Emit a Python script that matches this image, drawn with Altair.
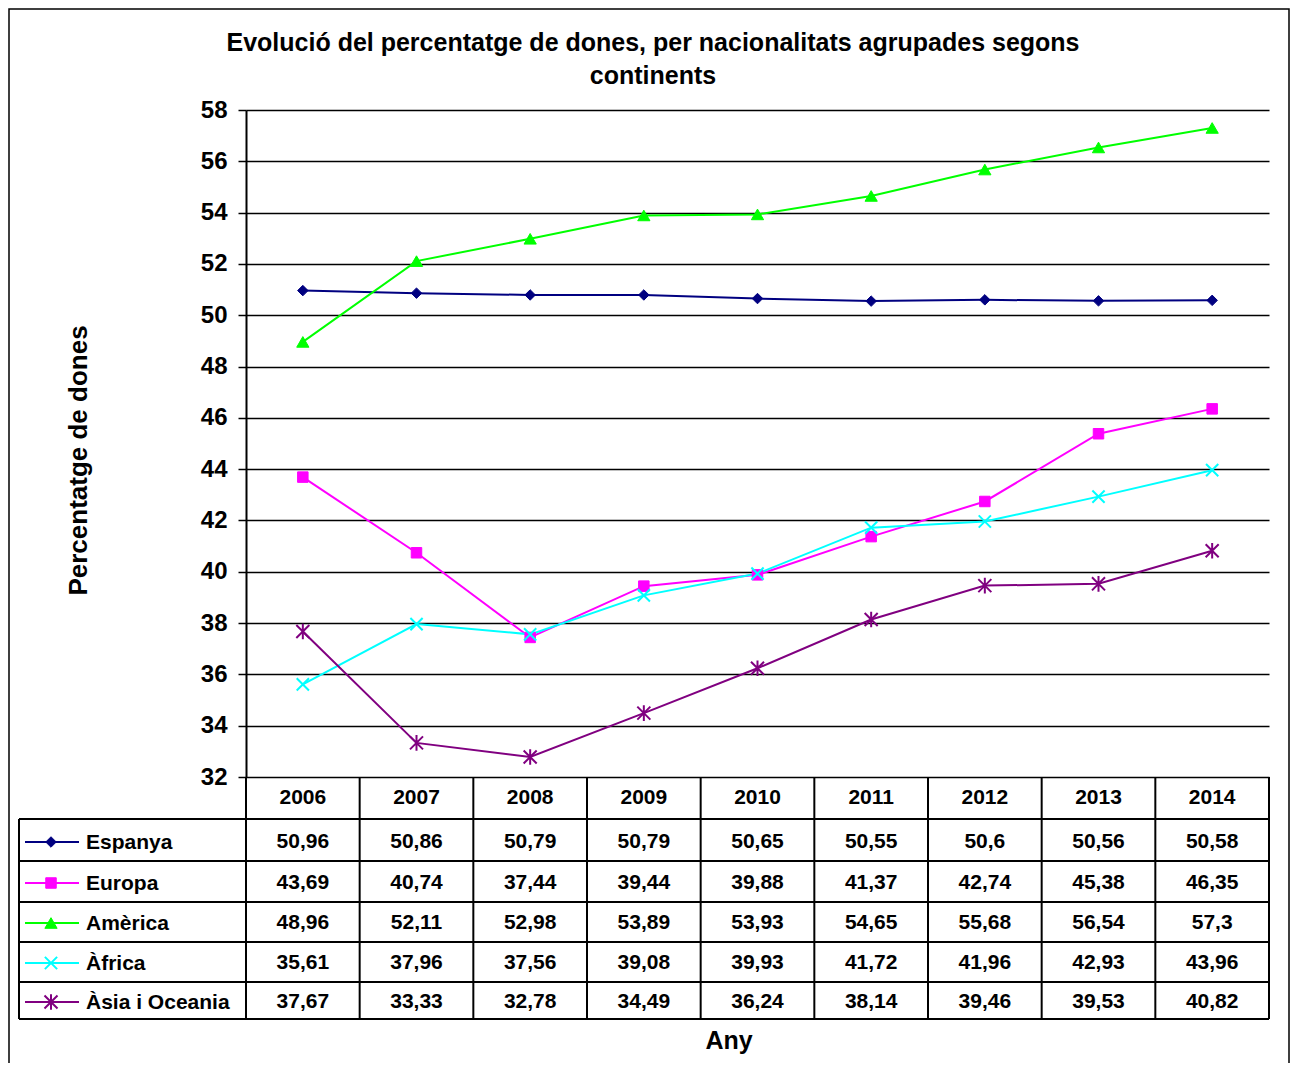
import altair as alt
import pandas as pd

# ---------------- data ----------------
years = ["2006", "2007", "2008", "2009", "2010", "2011", "2012", "2013", "2014"]
series = ["Espanya", "Europa", "Amèrica", "Àfrica", "Àsia i Oceania"]
espanya = [50.96, 50.86, 50.79, 50.79, 50.65, 50.55, 50.6, 50.56, 50.58]
europa = [43.69, 40.74, 37.44, 39.44, 39.88, 41.37, 42.74, 45.38, 46.35]
america = [48.96, 52.11, 52.98, 53.89, 53.93, 54.65, 55.68, 56.54, 57.3]
africa = [35.61, 37.96, 37.56, 39.08, 39.93, 41.72, 41.96, 42.93, 43.96]
asia = [37.67, 33.33, 32.78, 34.49, 36.24, 38.14, 39.46, 39.53, 40.82]
all_values = [espanya, europa, america, africa, asia]

title_lines = ["Evolució del percentatge de dones, per nacionalitats agrupades segons", "continents"]
y_title = "Percentatge de dones"
x_title = "Any"

# ---------------- styles ----------------
colors = ["#000080", "#FF00FF", "#00FF00", "#00FFFF", "#800080"]
X_PATH = "M-1,-1L1,1M-1,1L1,-1"
AST_PATH = "M-1,-1L1,1M-1,1L1,-1M0,-1.2L0,1.2"
shapes = ["diamond", "square", "triangle-up", X_PATH, AST_PATH]
filled = [True, True, True, False, False]
sizes = [110, 110, 150, 150, 170]

FONT = "Liberation Sans"
W, H = 1023, 667          # plot area
OX, OY = 246, 110         # page position of plot origin
PAD_L, PAD_T = OX - 8, OY - 8


def px(x):
    return x - OX


def py(y):
    return y - OY


rows = []
for s, vals in zip(series, all_values):
    for yr, v in zip(years, vals):
        rows.append({"serie": s, "any": yr, "pct": v,
                     "label": f"{v:g}".replace(".", ",")})
df = pd.DataFrame(rows)

one = alt.Data(values=[{"k": 1}])

x_enc = alt.X("any:N", sort=years, axis=None,
              scale=alt.Scale(type="point", padding=0.5, domain=years))
y_enc = alt.Y("pct:Q",
              scale=alt.Scale(domain=[32, 58], nice=False, zero=False),
              axis=alt.Axis(values=list(range(32, 59, 2)), grid=True,
                            gridColor="black", gridWidth=1.6, gridOpacity=1,
                            domainColor="black", domainWidth=2,
                            tickColor="black", tickSize=8, tickWidth=1.5,
                            labelFont=FONT, labelFontSize=24,
                            labelFontWeight="bold", labelColor="black",
                            labelPadding=11,
                            title=y_title, titleFont=FONT, titleFontSize=26,
                            titleFontWeight="bold", titleColor="black",
                            titleX=-168, titleY=350, titleAngle=-90,
                            titleBaseline="middle", titleAlign="center"))

layers = []

# lines
layers.append(
    alt.Chart(df).mark_line(strokeWidth=2).encode(
        x=x_enc, y=y_enc,
        color=alt.Color("serie:N", scale=alt.Scale(domain=series, range=colors),
                        legend=None),
        detail="serie:N",
    )
)

# markers
for s, c, sh, f, sz in zip(series, colors, shapes, filled, sizes):
    layers.append(
        alt.Chart(df).transform_filter(alt.datum.serie == s).mark_point(
            shape=sh, filled=f, size=sz, color=c, stroke=c,
            strokeWidth=1 if f else 2, opacity=1, fill=c if f else "transparent"
        ).encode(x=x_enc, y=y_enc)
    )

# ---------------- table ----------------
row_lines = [819, 861, 902, 942, 982, 1019]
row_centers = [841, 882, 922, 962, 1001]
header_center = 798


def seg(x1, y1, x2, y2, w=2):
    return alt.Chart(one).mark_rule(color="black", strokeWidth=w).encode(
        x=alt.value(px(x1)), x2=alt.value(px(x2)),
        y=alt.value(py(y1)), y2=alt.value(py(y2)))


for yl in row_lines:
    layers.append(seg(19, yl, OX + W, yl))
layers.append(seg(19, row_lines[0], 19, row_lines[-1]))
for k in range(len(years) + 1):
    xk = OX + k * W / len(years)
    layers.append(seg(xk, OY + H, xk, row_lines[-1]))

text_style = dict(font=FONT, fontSize=21, fontWeight="bold", color="black",
                  baseline="middle")

# header years
layers.append(
    alt.Chart(df).transform_filter(alt.datum.serie == series[0]).mark_text(
        align="center", **text_style
    ).encode(x=x_enc, y=alt.value(py(header_center)), text="any:N")
)

for i, (s, c, sh, f, sz) in enumerate(zip(series, colors, shapes, filled, sizes)):
    yc = row_centers[i]
    layers.append(
        alt.Chart(df).transform_filter(alt.datum.serie == s).mark_text(
            align="center", **text_style
        ).encode(x=x_enc, y=alt.value(py(yc + 1)), text="label:N")
    )
    # legend sample
    layers.append(
        alt.Chart(one).mark_rule(color=c, strokeWidth=2).encode(
            x=alt.value(px(25)), x2=alt.value(px(79)),
            y=alt.value(py(yc + 1)), y2=alt.value(py(yc + 1)))
    )
    layers.append(
        alt.Chart(one).mark_point(
            shape=sh, filled=f, size=sz, color=c, stroke=c,
            strokeWidth=1 if f else 2, opacity=1, fill=c if f else "transparent"
        ).encode(x=alt.value(px(51)), y=alt.value(py(yc + 1)))
    )
    layers.append(
        alt.Chart(alt.Data(values=[{"t": s}])).mark_text(
            align="left", **text_style
        ).encode(x=alt.value(px(86)), y=alt.value(py(yc + 2)), text="t:N")
    )

# ---------------- titles ----------------
layers.append(
    alt.Chart(alt.Data(values=[{"t": title_lines[0], "yy": py(43)},
                               {"t": title_lines[1], "yy": py(76)}])).mark_text(
        align="center", font=FONT, fontSize=25, fontWeight="bold",
        color="black", baseline="middle"
    ).encode(x=alt.value(px(653)), y=alt.Y("yy:Q", scale=None), text="t:N")
)
layers.append(
    alt.Chart(alt.Data(values=[{"t": x_title}])).mark_text(
        align="center", font=FONT, fontSize=25, fontWeight="bold",
        color="black", baseline="middle"
    ).encode(x=alt.value(px(729)), y=alt.value(py(1041)), text="t:N")
)

# outer border
layers.append(
    alt.Chart(one).mark_rect(fill="transparent", stroke="black", strokeWidth=1.5).encode(
        x=alt.value(px(9)), x2=alt.value(px(1289)),
        y=alt.value(py(9)), y2=alt.value(py(1100)))
)

chart = alt.layer(*layers).properties(
    width=W, height=H,
    padding={"left": PAD_L, "top": PAD_T, "right": 21, "bottom": 286},
    autosize=alt.AutoSizeParams(type="none"),
    background="white",
).configure_view(strokeWidth=0)

chart.save("out.html", embed_options={"renderer": "svg", "actions": False})
